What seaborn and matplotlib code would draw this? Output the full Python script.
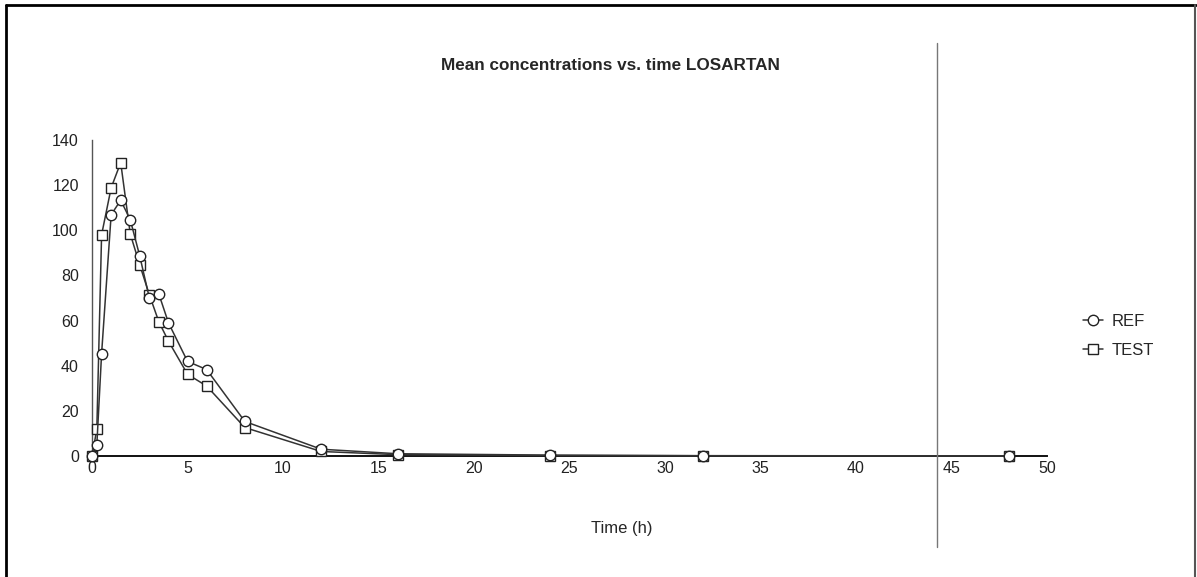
import pandas as pd
import matplotlib.pyplot as plt
import seaborn as sns
from matplotlib.lines import Line2D

# -----------------------------
# Data
# -----------------------------
time_h = [0, 0.25, 0.5, 1, 1.5, 2, 2.5, 3, 3.5, 4, 5, 6, 8, 12, 16, 24, 32, 48]
ref_conc = [0, 4.9, 45.4, 106.9, 113.3, 104.7, 88.5, 70.0, 71.7, 59.0,
            41.9, 38.3, 15.3, 3.0, 1.0, 0.4, 0.15, 0.05]
test_conc = [0, 11.9, 98.0, 118.8, 130.0, 98.4, 84.6, 71.4, 59.4, 50.9,
             36.2, 31.0, 12.6, 2.0, 0.6, 0.2, 0.1, 0.03]
series_names = ["REF", "TEST"]

df = pd.DataFrame({
    "Time": time_h * 2,
    "Conc": ref_conc + test_conc,
    "Series": [series_names[0]] * len(time_h) + [series_names[1]] * len(time_h),
})

# -----------------------------
# Plot
# -----------------------------
sns.set_style("white")
plt.rcParams['font.family'] = ['Liberation Sans', 'DejaVu Sans']

fig = plt.figure(figsize=(11.97, 5.77), dpi=100)
ax = fig.add_axes([0.0769, 0.2097, 0.7978, 0.5477])

# TEST first so REF markers sit on top at the tail
sns.lineplot(data=df, x="Time", y="Conc", hue="Series", style="Series",
             hue_order=["TEST", "REF"], style_order=["TEST", "REF"],
             markers={"REF": "o", "TEST": "s"}, dashes=False,
             palette={"REF": "#333333", "TEST": "#333333"},
             mfc="white", mec="#222222", mew=1.0, markersize=7.5,
             linewidth=1.1, ax=ax, clip_on=False, zorder=3)

ax.set_xlim(0, 50)
ax.set_ylim(0, 140)
ax.set_xticks(range(0, 51, 5))
ax.set_yticks(range(0, 141, 20))
ax.tick_params(axis="both", direction="inout", length=11, width=1,
               color="#222222", labelsize=11.5, labelcolor="#222222")
ax.tick_params(axis="x", pad=-2)
ax.tick_params(axis="y", pad=4)

for s in ["top", "right"]:
    ax.spines[s].set_visible(False)
ax.spines["bottom"].set_color("#111111")
ax.spines["bottom"].set_linewidth(1.4)
ax.spines["left"].set_color("#555555")
ax.spines["left"].set_linewidth(1.0)

ax.set_xlabel("Time (h)", fontsize=12)
ax.xaxis.set_label_coords(0.555, -0.205)
ax.set_ylabel("")

fig.text(0.51, 0.887, "Mean concentrations vs. time LOSARTAN",
         ha="center", va="center", fontsize=12.3, fontweight="bold")

handles, labels = ax.get_legend_handles_labels()
order = [labels.index(n) for n in series_names]
ax.legend([handles[i] for i in order], [labels[i] for i in order],
          frameon=False, fontsize=12,
          loc="center left", bbox_to_anchor=(1.022, 0.38),
          handlelength=1.2, handletextpad=0.5, labelspacing=0.85)

# frame of the original Excel chart
fig.add_artist(Line2D([0.005, 0.005], [0, 0.992], color="black", lw=2))
fig.add_artist(Line2D([0.005, 0.999], [0.992, 0.992], color="black", lw=2))
fig.add_artist(Line2D([0.998, 0.998], [0, 0.992], color="#555555", lw=1.5))
fig.add_artist(Line2D([0.7828, 0.7828], [0.052, 0.925], color="#777777", lw=1))

plt.savefig("out.png", dpi=100)
